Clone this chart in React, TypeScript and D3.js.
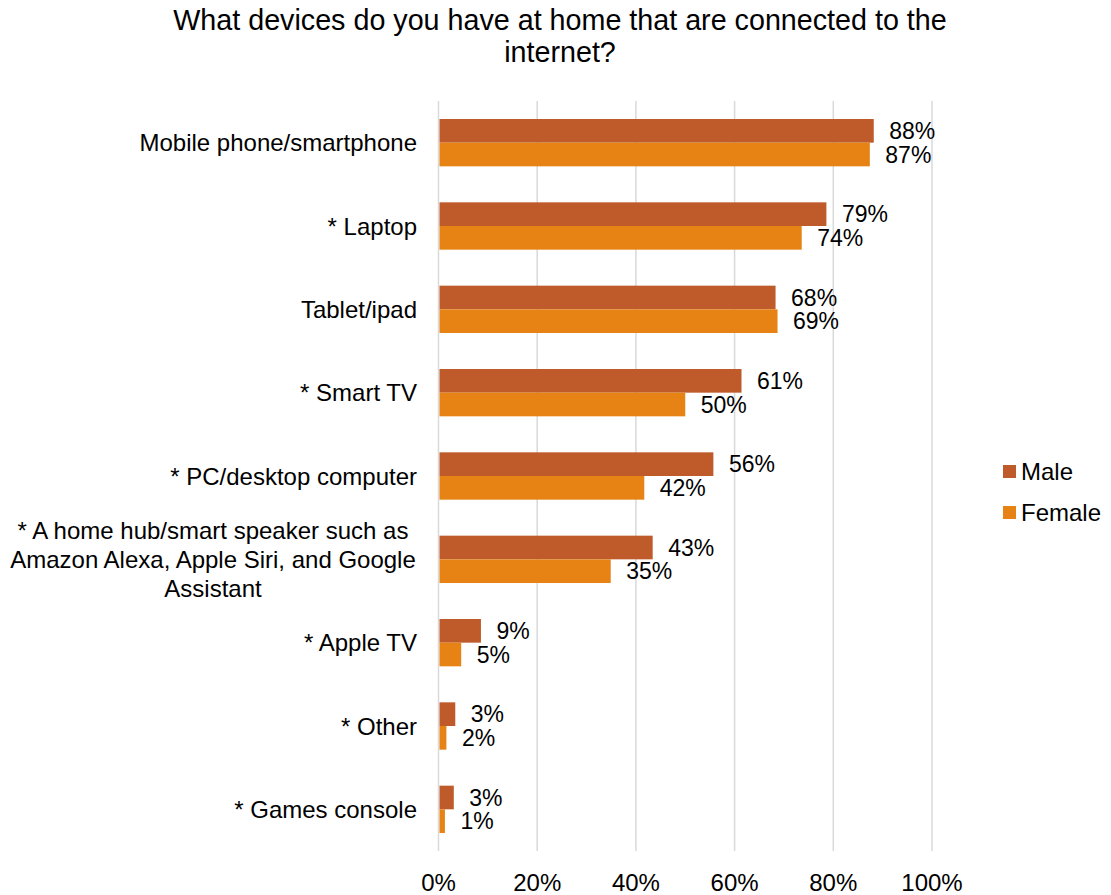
import React from "react";
import * as d3 from "d3";

const categories: string[][] = [
  ["Mobile phone/smartphone"],
  ["* Laptop"],
  ["Tablet/ipad"],
  ["* Smart TV"],
  ["* PC/desktop computer"],
  ["* A home hub/smart speaker such as", "Amazon Alexa, Apple Siri, and Google", "Assistant"],
  ["* Apple TV"],
  ["* Other"],
  ["* Games console"],
];
const maleValues = [88.2, 78.6, 68.3, 61.4, 55.7, 43.4, 8.6, 3.4, 3.1];
const femaleValues = [87.4, 73.6, 68.7, 50.0, 41.7, 34.9, 4.6, 1.6, 1.3];
const maleLabels = ["88%", "79%", "68%", "61%", "56%", "43%", "9%", "3%", "3%"];
const femaleLabels = ["87%", "74%", "69%", "50%", "42%", "35%", "5%", "2%", "1%"];
const xTicks = [0, 20, 40, 60, 80, 100];
const seriesNames = ["Male", "Female"];
const titleLines = ["What devices do you have at home that are connected to the", "internet?"];

const MALE = "#BF5A2B";
const FEMALE = "#E68314";
const FONT = "'Liberation Sans', Arial, sans-serif";
const FS = 24;
const LFS = 23;
const TFS = 28.7;

export default function App() {
  const W = 1111, H = 895;
  const left = 438.5, right = 932, top = 101, bottom = 851;
  const x = d3.scaleLinear().domain([0, 100]).range([left, right]);
  const idx = categories.map((_, i) => i);
  const y = d3.scaleBand<number>().domain(idx).range([top, bottom]).paddingInner(0.432).paddingOuter(0.216);
  const bh = y.bandwidth() / 2;
  const lineH = 29;

  return (
    <svg width={W} height={H} style={{ position: "absolute", left: 0, top: 0, background: "#fff" }} fontFamily={FONT}>
      {titleLines.map((t, i) => (
        <text key={i} x={560} y={20 + i * 32} fontSize={TFS} textAnchor="middle" dominantBaseline="central" fill="#000">{t}</text>
      ))}
      {xTicks.map((t) => (
        <line key={t} x1={x(t)} x2={x(t)} y1={top} y2={bottom} stroke="#D9D9D9" strokeWidth={1.5} />
      ))}
      {idx.map((i) => {
        const y0 = y(i)!;
        const cy = y0 + y.bandwidth() / 2;
        const lines = categories[i];
        return (
          <g key={i}>
            <rect x={x(0) + 1} y={y0} width={x(maleValues[i]) - x(0) - 1} height={bh} fill={MALE} />
            <rect x={x(0) + 1} y={y0 + bh} width={x(femaleValues[i]) - x(0) - 1} height={bh} fill={FEMALE} />
            <text x={x(maleValues[i]) + 15.5} y={y0 + bh / 2} fontSize={LFS} dominantBaseline="central" fill="#000">{maleLabels[i]}</text>
            <text x={x(femaleValues[i]) + 15.5} y={y0 + bh * 1.5} fontSize={LFS} dominantBaseline="central" fill="#000">{femaleLabels[i]}</text>
            {lines.map((l, j) => (
              <text key={j} x={lines.length > 1 ? 213 : 417} y={cy + (j - (lines.length - 1) / 2) * lineH} fontSize={FS}
                textAnchor={lines.length > 1 ? "middle" : "end"} dominantBaseline="central" fill="#000">{l}</text>
            ))}
          </g>
        );
      })}
      {xTicks.map((t) => (
        <text key={t} x={x(t)} y={882} fontSize={FS} textAnchor="middle" dominantBaseline="central" fill="#000">{t}%</text>
      ))}
      {seriesNames.map((s, i) => (
        <g key={s}>
          <rect x={1003} y={465 + i * 41} width={13} height={13} fill={i === 0 ? MALE : FEMALE} />
          <text x={1021} y={471.5 + i * 41} fontSize={FS} dominantBaseline="central" fill="#000">{s}</text>
        </g>
      ))}
    </svg>
  );
}
